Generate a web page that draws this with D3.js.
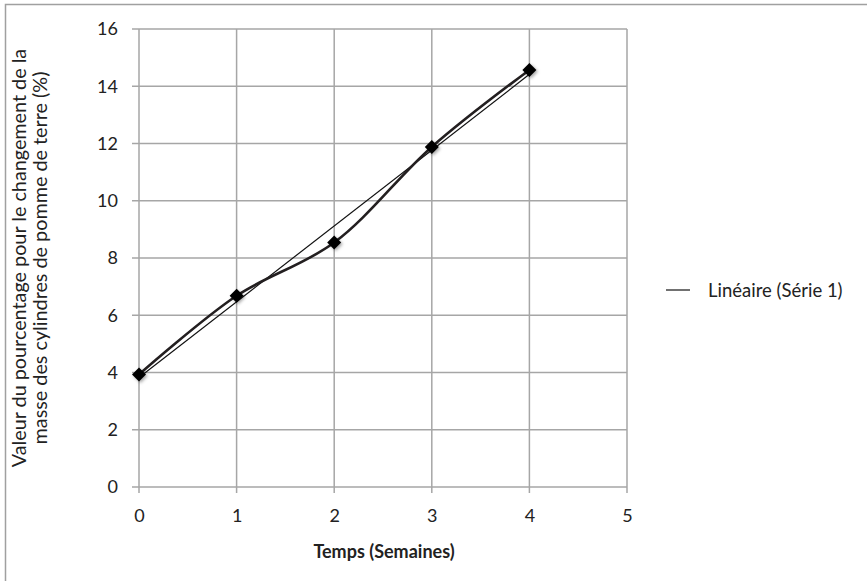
<!DOCTYPE html>
<html>
<head>
<meta charset="utf-8">
<script src="https://cdn.jsdelivr.net/npm/d3@7"></script>
<style>
  body { margin: 0; background: #fff; }
  svg { display: block; font-family: Lato, 'Open Sans', sans-serif; }
  .grid line { stroke: #a6a6a6; stroke-width: 1.5; }
  .tick text { fill: #222; font-size: 18px; font-family: Lato, sans-serif; }
</style>
</head>
<body>
<svg id="chart" width="867" height="581"></svg>
<script>
const weeks = [0, 1, 2, 3, 4];
const massChange = [3.93, 6.68, 8.54, 11.88, 14.57];
const xTicks = [0, 1, 2, 3, 4, 5];
const yTicks = [0, 2, 4, 6, 8, 10, 12, 14, 16];
const legendLabel = 'Linéaire (Série 1)';

const margin = { top: 29, left: 139, right: 240, bottom: 94 };
const width = 867 - margin.left - margin.right;
const height = 581 - margin.top - margin.bottom;

const svg = d3.select('#chart');

// frame (only top + left edge visible)
svg.append('path')
    .attr('d', 'M5.5,581 V4.5 H867')
    .attr('fill', 'none')
    .attr('stroke', '#a0a0a0')
    .attr('stroke-width', 1.5);

const g = svg.append('g')
    .attr('transform', `translate(${margin.left}, ${margin.top})`);

const xScale = d3.scaleLinear().domain([0, 5]).range([0, width]);
const yScale = d3.scaleLinear().domain([0, 16]).range([height, 0]);

// gridlines
g.append('g')
    .attr('class', 'grid')
    .selectAll('line')
    .data(yTicks)
    .join('line')
    .attr('x1', -7).attr('x2', width)
    .attr('y1', d => yScale(d)).attr('y2', d => yScale(d));

g.append('g')
    .attr('class', 'grid')
    .selectAll('line')
    .data(xTicks)
    .join('line')
    .attr('x1', d => xScale(d)).attr('x2', d => xScale(d))
    .attr('y1', 0).attr('y2', height + 6);

// axes (labels only)
const xAxis = g.append('g')
    .attr('transform', `translate(0,${height})`)
    .call(d3.axisBottom(xScale).tickValues(xTicks).tickFormat(d3.format('d'))
        .tickSize(0).tickPadding(22));
xAxis.select('.domain').remove();

const yAxis = g.append('g')
    .call(d3.axisLeft(yScale).tickValues(yTicks).tickFormat(d3.format('d'))
        .tickSize(0).tickPadding(21));
yAxis.select('.domain').remove();

// linear trend (least squares from the data)
const mx = d3.mean(weeks), my = d3.mean(massChange);
const slope = d3.sum(weeks, (x, i) => (x - mx) * (massChange[i] - my)) /
    d3.sum(weeks, x => (x - mx) ** 2);
const intercept = my - slope * mx;
const trend = [weeks[0], weeks[weeks.length - 1]].map(x => [x, intercept + slope * x]);

g.append('path')
    .datum(trend)
    .attr('fill', 'none')
    .attr('stroke', '#111')
    .attr('stroke-width', 1.2)
    .attr('d', d3.line().x(d => xScale(d[0])).y(d => yScale(d[1])));

// smoothed series
const points = weeks.map((w, i) => [w, massChange[i]]);
g.append('path')
    .datum(points)
    .attr('fill', 'none')
    .attr('stroke', '#231f20')
    .attr('stroke-width', 2.6)
    .attr('d', d3.line()
        .curve(d3.curveCatmullRom.alpha(0.5))
        .x(d => xScale(d[0]))
        .y(d => yScale(d[1])));

// diamond markers with a soft shadow
const defs = svg.append('defs');
const f = defs.append('filter').attr('id', 'shadow').attr('x', '-50%').attr('y', '-50%')
    .attr('width', '200%').attr('height', '200%');
f.append('feDropShadow').attr('dx', 1.5).attr('dy', 1.5).attr('stdDeviation', 1.5)
    .attr('flood-color', '#000').attr('flood-opacity', 0.35);

g.selectAll('.marker')
    .data(points)
    .join('path')
    .attr('class', 'marker')
    .attr('transform', d => `translate(${xScale(d[0])},${yScale(d[1])})`)
    .attr('d', 'M0,-7 L7,0 L0,7 L-7,0 Z')
    .attr('fill', '#000')
    .attr('filter', 'url(#shadow)');

// axis titles
svg.append('text')
    .attr('x', 384)
    .attr('y', 558)
    .attr('text-anchor', 'middle')
    .style('font-size', '18px')
    .style('font-weight', 'bold')
    .style('fill', '#222')
    .text('Temps (Semaines)');

const yTitleLines = [
    'Valeur du pourcentage pour le changement de la',
    'masse des cylindres de pomme de terre (%)'
];
svg.selectAll('.ytitle')
    .data(yTitleLines)
    .join('text')
    .attr('class', 'ytitle')
    .attr('transform', (d, i) => `translate(${26 + i * 21},258) rotate(-90)`)
    .attr('text-anchor', 'middle')
    .style('font-size', '19.8px')
    .style('fill', '#222')
    .text(d => d);

// legend
const legend = svg.append('g').attr('transform', 'translate(666,290)');
legend.append('line')
    .attr('x1', 0).attr('x2', 24)
    .attr('stroke', '#111').attr('stroke-width', 1.2);
legend.append('text')
    .attr('x', 42).attr('y', 6.5)
    .style('font-size', '18.5px')
    .style('fill', '#222')
    .text(legendLabel);
</script>
</body>
</html>
